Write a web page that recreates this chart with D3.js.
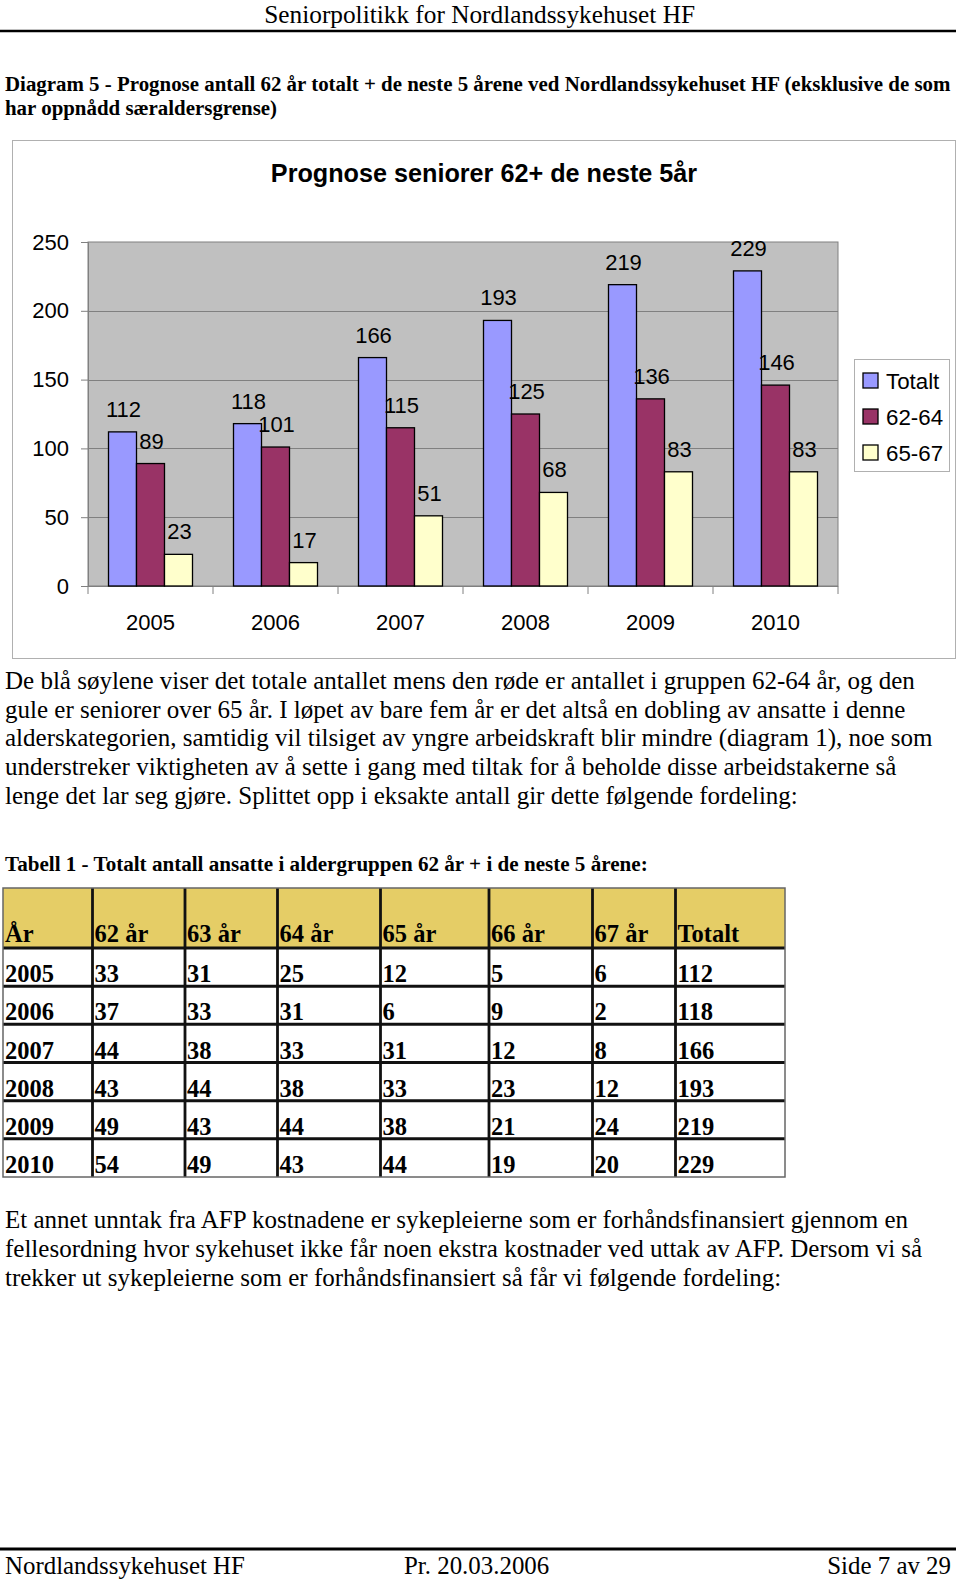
<!DOCTYPE html>
<html>
<head>
<meta charset="utf-8">
<script src="https://cdn.jsdelivr.net/npm/d3@7"></script>
<style>
  html, body { margin: 0; padding: 0; background: #fff; }
  svg { display: block; }
</style>
</head>
<body>
<svg id="page" width="960" height="1582"></svg>
<script>
// ---------- data ----------
const years = ["2005", "2006", "2007", "2008", "2009", "2010"];
const seriesNames = ["Totalt", "62-64", "65-67"];
const totalt = [112, 118, 166, 193, 219, 229];
const g6264 = [89, 101, 115, 125, 136, 146];
const g6567 = [23, 17, 51, 68, 83, 83];
const yTicks = [0, 50, 100, 150, 200, 250];

const tableHeader = ["År", "62 år", "63 år", "64 år", "65 år", "66 år", "67 år", "Totalt"];
const age62 = [33, 37, 44, 43, 49, 54];
const age63 = [31, 33, 38, 44, 43, 49];
const age64 = [25, 31, 33, 38, 44, 43];
const age65 = [12, 6, 31, 33, 38, 44];
const age66 = [5, 9, 12, 23, 21, 19];
const age67 = [6, 2, 8, 12, 24, 20];

const para1 = [
  "De blå søylene viser det totale antallet mens den røde er antallet i gruppen 62-64 år, og den",
  "gule er seniorer over 65 år. I løpet av bare fem år er det altså en dobling av ansatte i denne",
  "alderskategorien, samtidig vil tilsiget av yngre arbeidskraft blir mindre (diagram 1), noe som",
  "understreker viktigheten av å sette i gang med tiltak for å beholde disse arbeidstakerne så",
  "lenge det lar seg gjøre. Splittet opp i eksakte antall gir dette følgende fordeling:"
];
const para2 = [
  "Et annet unntak fra AFP kostnadene er sykepleierne som er forhåndsfinansiert gjennom en",
  "fellesordning hvor sykehuset ikke får noen ekstra kostnader ved uttak av AFP. Dersom vi så",
  "trekker ut sykepleierne som er forhåndsfinansiert så får vi følgende fordeling:"
];
const captionLines = [
  "Diagram 5 - Prognose antall 62 år totalt + de neste 5 årene ved Nordlandssykehuset HF (eksklusive de som",
  "har oppnådd særaldersgrense)"
];

// ---------- page ----------
const svg = d3.select("#page");
const serif = "'Liberation Serif', 'Times New Roman', serif";
const sans = "'Liberation Sans', Arial, sans-serif";
const colors = ["#9999FF", "#993366", "#FFFFCC"];

// header
svg.append("text").attr("x", 695).attr("y", 23).attr("text-anchor", "end")
  .attr("font-family", serif).attr("font-size", 25.3).text("Seniorpolitikk for Nordlandssykehuset HF");
svg.append("line").attr("x1", 0).attr("x2", 956).attr("y1", 31).attr("y2", 31)
  .attr("stroke", "#000").attr("stroke-width", 2.5);

// caption
captionLines.forEach((t, i) => {
  svg.append("text").attr("x", 5).attr("y", 91 + i * 24)
    .attr("font-family", serif).attr("font-weight", "bold").attr("font-size", 20.9).text(t);
});

// ---------- chart ----------
svg.append("rect").attr("x", 12.5).attr("y", 140.5).attr("width", 943).attr("height", 518)
  .attr("fill", "#fff").attr("stroke", "#b0b0b0").attr("stroke-width", 1);

svg.append("text").attr("x", 484).attr("y", 182).attr("text-anchor", "middle")
  .attr("font-family", sans).attr("font-weight", "bold").attr("font-size", 25.2)
  .text("Prognose seniorer 62+ de neste 5år");

const plot = { left: 88, right: 838, top: 242, bottom: 586 };
const y = d3.scaleLinear().domain([0, 250]).range([plot.bottom, plot.top]);
const x0 = d3.scaleBand().domain(years).range([plot.left, plot.right])
  .paddingInner(0.328).paddingOuter(0.164);
const x1 = d3.scaleBand().domain(seriesNames).range([0, x0.bandwidth()]);

const g = svg.append("g");
g.append("rect").attr("x", plot.left).attr("y", plot.top)
  .attr("width", plot.right - plot.left).attr("height", plot.bottom - plot.top)
  .attr("fill", "#c0c0c0").attr("stroke", "#808080");

// gridlines
g.selectAll(".grid").data(yTicks.filter(d => d > 0 && d < 250)).enter().append("line")
  .attr("x1", plot.left).attr("x2", plot.right)
  .attr("y1", d => Math.round(y(d)) + 0.5).attr("y2", d => Math.round(y(d)) + 0.5)
  .attr("stroke", "#808080");

// y axis
const yAxis = d3.axisLeft(y).tickValues(yTicks).tickSize(7).tickPadding(12);
const yg = g.append("g").attr("transform", `translate(${plot.left},0)`).call(yAxis);
yg.select(".domain").attr("stroke", "#808080");
yg.selectAll(".tick line").attr("stroke", "#808080");
yg.selectAll(".tick text").attr("font-family", sans).attr("font-size", 22).attr("fill", "#000");

// x axis: ticks at category boundaries
const xg = g.append("g").attr("transform", `translate(0,${plot.bottom})`);
xg.append("line").attr("x1", plot.left).attr("x2", plot.right).attr("y1", 0.5).attr("y2", 0.5)
  .attr("stroke", "#808080");
const step = x0.step();
const bounds = d3.range(years.length + 1).map(i => plot.left + i * step);
xg.selectAll(".xt").data(bounds).enter().append("line")
  .attr("x1", d => d).attr("x2", d => d).attr("y1", 0).attr("y2", 8).attr("stroke", "#808080");
xg.selectAll(".xl").data(years).enter().append("text")
  .attr("x", d => x0(d) + x0.bandwidth() / 2).attr("y", 44)
  .attr("text-anchor", "middle").attr("font-family", sans).attr("font-size", 22).text(d => d);

// bars
const table = years.map((yr, i) => ({ year: yr, values: [
  { key: "Totalt", v: totalt[i] }, { key: "62-64", v: g6264[i] }, { key: "65-67", v: g6567[i] }
]}));
const groups = g.selectAll(".grp").data(table).enter().append("g")
  .attr("transform", d => `translate(${x0(d.year)},0)`);
groups.selectAll("rect").data(d => d.values).enter().append("rect")
  .attr("x", d => x1(d.key)).attr("y", d => y(d.v))
  .attr("width", x1.bandwidth()).attr("height", d => y(0) - y(d.v))
  .attr("fill", (d, i) => colors[i]).attr("stroke", "#000").attr("stroke-width", 1.3);
groups.selectAll("text").data(d => d.values).enter().append("text")
  .attr("x", d => x1(d.key) + x1.bandwidth() / 2 + 1).attr("y", d => y(d.v) - 15)
  .attr("text-anchor", "middle").attr("font-family", sans).attr("font-size", 22).text(d => d.v);

// legend
const lg = svg.append("g");
lg.append("rect").attr("x", 854.5).attr("y", 359.5).attr("width", 95).attr("height", 112)
  .attr("fill", "#fff").attr("stroke", "#b0b0b0");
seriesNames.forEach((s, i) => {
  const cy = 380.5 + i * 36;
  lg.append("rect").attr("x", 863).attr("y", cy - 7.5).attr("width", 15).attr("height", 15)
    .attr("fill", colors[i]).attr("stroke", "#000").attr("stroke-width", 1.3);
  lg.append("text").attr("x", 886).attr("y", cy + 8).attr("font-family", sans)
    .attr("font-size", 22.3).text(s);
});

// ---------- paragraph 1 ----------
para1.forEach((t, i) => {
  svg.append("text").attr("x", 5).attr("y", 689 + i * 28.7)
    .attr("font-family", serif).attr("font-size", 25).text(t);
});

// table caption
svg.append("text").attr("x", 5).attr("y", 871)
  .attr("font-family", serif).attr("font-weight", "bold").attr("font-size", 21.1)
  .text("Tabell 1 - Totalt antall ansatte i aldergruppen 62 år + i de neste 5 årene:");

// ---------- table ----------
const colX = [3, 92.5, 185, 277.5, 380.5, 489, 592.5, 675.5, 785];
const rowsData = years.map((yr, i) => [yr, age62[i], age63[i], age64[i], age65[i], age66[i], age67[i], totalt[i]]);
const tTop = 888, hBottom = 948, tBottom = 1177;
const rowY = d3.scaleBand().domain(d3.range(rowsData.length)).range([hBottom, tBottom]);
const tg = svg.append("g");
tg.append("rect").attr("x", colX[0]).attr("y", tTop).attr("width", colX[8] - colX[0])
  .attr("height", hBottom - tTop).attr("fill", "#E5CD66");
// inner lines
colX.slice(1, -1).forEach(cx => {
  tg.append("line").attr("x1", cx).attr("x2", cx).attr("y1", tTop).attr("y2", tBottom)
    .attr("stroke", "#111").attr("stroke-width", 2.8);
});
[hBottom].concat(d3.range(1, rowsData.length).map(i => rowY(i))).forEach(ry => {
  tg.append("line").attr("x1", colX[0]).attr("x2", colX[8]).attr("y1", ry).attr("y2", ry)
    .attr("stroke", "#111").attr("stroke-width", 3);
});
tg.append("rect").attr("x", colX[0]).attr("y", tTop).attr("width", colX[8] - colX[0])
  .attr("height", tBottom - tTop).attr("fill", "none").attr("stroke", "#666").attr("stroke-width", 1.5);
tableHeader.forEach((h, j) => {
  tg.append("text").attr("x", colX[j] + 2).attr("y", hBottom - 6)
    .attr("font-family", serif).attr("font-weight", "bold").attr("font-size", 24.5).text(h);
});
rowsData.forEach((r, i) => {
  r.forEach((v, j) => {
    tg.append("text").attr("x", colX[j] + 2).attr("y", rowY(i) + rowY.bandwidth() - 4)
      .attr("font-family", serif).attr("font-weight", "bold").attr("font-size", 24.5).text(v);
  });
});

// ---------- paragraph 2 ----------
para2.forEach((t, i) => {
  svg.append("text").attr("x", 5).attr("y", 1228 + i * 29)
    .attr("font-family", serif).attr("font-size", 25).text(t);
});

// ---------- footer ----------
svg.append("line").attr("x1", 0).attr("x2", 956).attr("y1", 1549).attr("y2", 1549)
  .attr("stroke", "#000").attr("stroke-width", 3);
svg.append("text").attr("x", 5).attr("y", 1574).attr("font-family", serif).attr("font-size", 24.9)
  .text("Nordlandssykehuset HF");
svg.append("text").attr("x", 404).attr("y", 1574).attr("font-family", serif).attr("font-size", 24.9)
  .text("Pr. 20.03.2006");
svg.append("text").attr("x", 951).attr("y", 1574).attr("text-anchor", "end").attr("font-family", serif)
  .attr("font-size", 24.9).text("Side 7 av 29");
</script>
</body>
</html>
